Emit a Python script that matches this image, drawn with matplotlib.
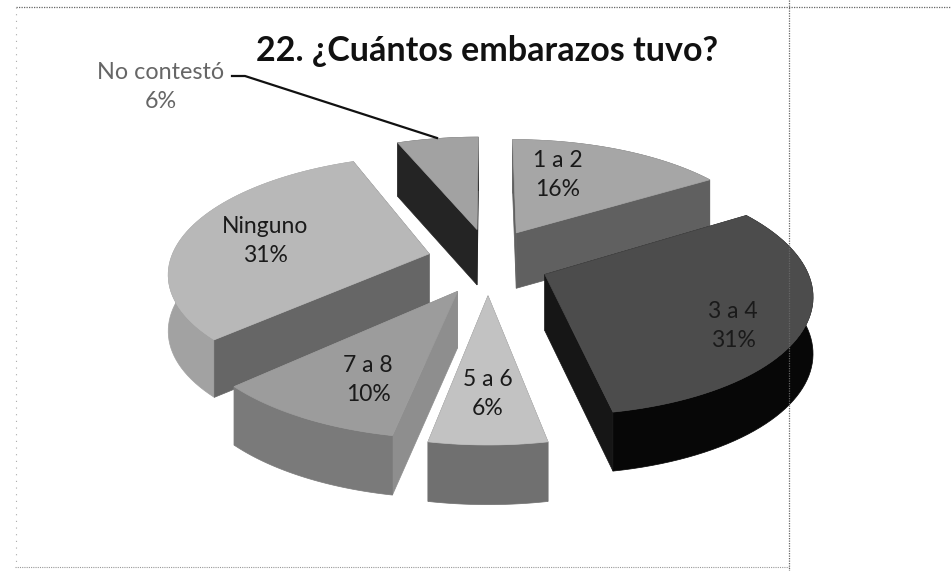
import matplotlib
matplotlib.use('Agg')
import matplotlib.pyplot as plt
import numpy as np
from matplotlib.patches import Polygon

# Data
categories = ['1 a 2', '3 a 4', '5 a 6', '7 a 8', 'Ninguno', 'No contestó']
percentages = [16, 31, 6, 10, 31, 6]
title = '22. ¿Cuántos embarazos tuvo?'

# Grey shades of each slice: top, outer wall, cut faces
top_colors = ['#a6a6a6', '#4c4c4c', '#c2c2c2', '#9c9c9c', '#b8b8b8', '#a2a2a2']
wall_colors = ['#666666', '#070707', '#707070', '#7a7a7a', '#a2a2a2', '#555555']
cut_colors = ['#606060', '#161616', '#707070', '#8e8e8e', '#666666', '#242424']
label_xy = [(558, 175), (733, 326), (488, 394), (368, 380), (265, 241), None]

# Pie geometry in pixels, fitted to the picture
cx, cy = 488, 261
rx, ry = 259, 115
persp = 0.15
explode_x, explode_y = 0.235, 0.29
depth = 56


def project(x, f):
    # x to the right, f towards the viewer, both in pie radii
    w = 1 - persp * f
    return cx + rx * x / w, cy + ry * f / w


def slice_faces(start, end):
    ang = np.radians(np.linspace(start, end, 60))
    mid = np.radians((start + end) / 2)
    ox, of = explode_x * np.sin(mid), -explode_y * np.cos(mid)
    apex = np.array(project(ox, of))
    arc = np.array(project(ox + np.sin(ang), of - np.cos(ang))).T
    return apex, arc


def down(pts):
    # walls get a little taller towards the viewer
    pts = np.array(pts, dtype=float)
    pts[..., 1] += depth + 0.02 * (pts[..., 1] - cy)
    return pts


fig = plt.figure(figsize=(9.51, 5.71), dpi=100)
ax = fig.add_axes([0, 0, 1, 1])
ax.set_xlim(0, 951)
ax.set_ylim(571, 0)
ax.axis('off')

# Slices go clockwise from the top, painted back to front
edges = np.concatenate([[0], np.cumsum(percentages)]) * 360 / sum(percentages)
order = [5, 0, 4, 1, 3, 2]
for i in order:
    apex, arc = slice_faces(edges[i], edges[i + 1])
    faces = []
    for p in (arc[0], arc[-1]):
        quad = np.array([apex, p, down(p), down(apex)])
        faces.append((quad, cut_colors[i]))
    wall = np.vstack([arc, down(arc)[::-1]])
    faces.append((wall, wall_colors[i]))
    faces.sort(key=lambda item: item[0][:, 1].mean())
    for pts, col in faces:
        ax.add_patch(Polygon(pts, closed=True, fc=col, ec=col, lw=0.5))
    top = np.vstack([apex, arc])
    ax.add_patch(Polygon(top, closed=True, fc=top_colors[i], ec=top_colors[i], lw=0.5))

# Scanned page lines
ax.plot([16, 951], [7, 7], color='#666666', lw=0.9, ls=(0, (1, 1)))
ax.plot([789, 789], [0, 571], color='#666666', lw=0.9, ls=(0, (1, 1)))
ax.plot([15, 789], [567, 567], color='#999999', lw=0.8, ls=(0, (1, 1)))
ax.plot([16, 16], [7, 567], color='#aaaaaa', lw=0.8, ls=(0, (1, 5)))

# Labels
for name, pct, xy in zip(categories, percentages, label_xy):
    if xy is not None:
        ax.text(xy[0], xy[1], f'{name}\n{pct}%', ha='center', va='center',
                fontsize=16.5, color='#1a1a1a', family='Lato', linespacing=1.5)

ax.text(161, 87, f'{categories[5]}\n{percentages[5]}%', ha='center', va='center',
        fontsize=16.8, color='#666666', family='Lato', linespacing=1.45)
ax.plot([232, 245, 437], [76, 76, 138], color='#111111', lw=1.6)

ax.text(487, 51, title, ha='center', va='center', fontsize=24.5, fontweight='bold',
        family='Lato', color='#111111')

fig.savefig('out.png', dpi=100)
